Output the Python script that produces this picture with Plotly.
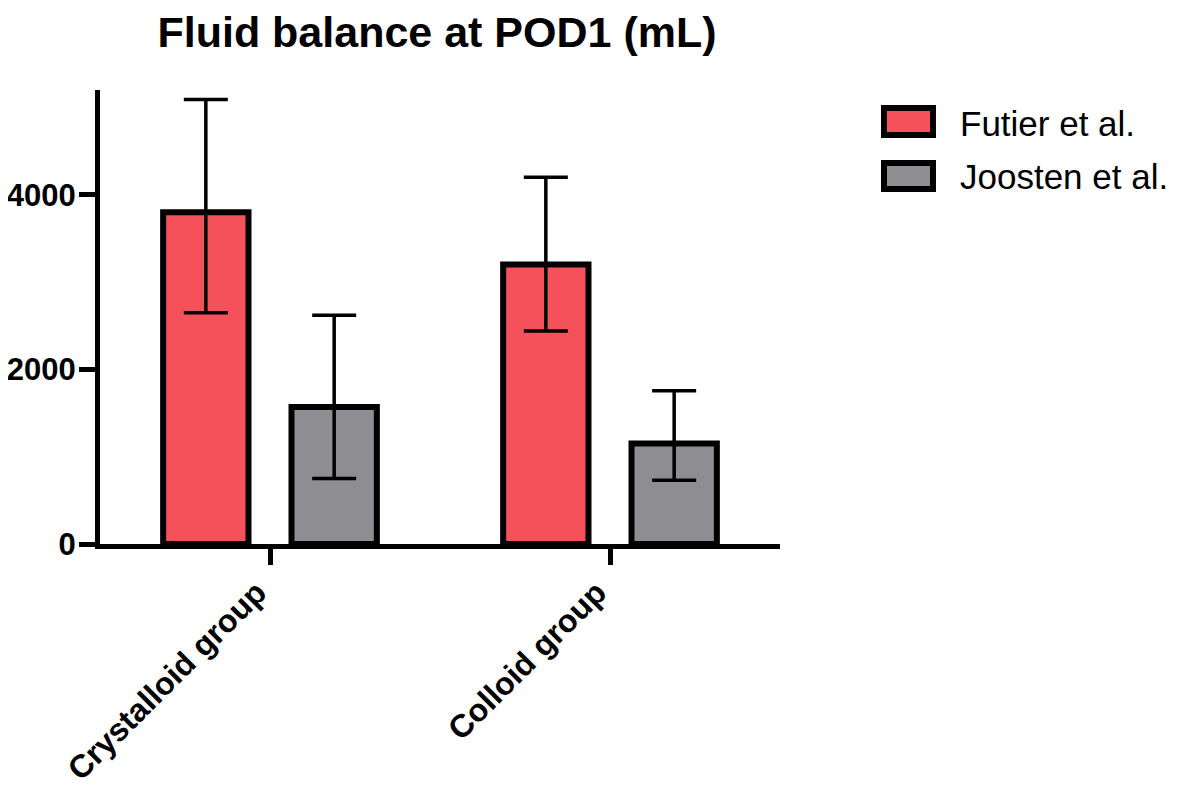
import plotly.graph_objects as go

categories = ["Crystalloid group", "Colloid group"]
series_names = ["Futier et al.", "Joosten et al."]

futier_mean = [3800, 3200]
futier_upper = [5090, 4200]
futier_lower = [2650, 2440]

joosten_mean = [1570, 1150]
joosten_upper = [2620, 1755]
joosten_lower = [750, 730]

y_ticks = [0, 2000, 4000]

RED = "#F4515A"
GRAY = "#8D8D92"
FONT = "Liberation Sans, Arial, Helvetica, sans-serif"


def err(mean, upper, lower):
    plus = [u - m for u, m in zip(upper, mean)]
    minus = [m - l for m, l in zip(mean, lower)]
    return dict(type="data", array=plus, arrayminus=minus, symmetric=False,
                color="black", thickness=3.5, width=22)


fig = go.Figure()
fig.add_trace(go.Bar(
    x=categories, y=futier_mean, name=series_names[0],
    marker=dict(color=RED, line=dict(color="black", width=6)),
    error_y=err(futier_mean, futier_upper, futier_lower),
    showlegend=False,
))
fig.add_trace(go.Bar(
    x=categories, y=joosten_mean, name=series_names[1],
    marker=dict(color=GRAY, line=dict(color="black", width=6)),
    error_y=err(joosten_mean, joosten_upper, joosten_lower),
    showlegend=False,
))

# page body has an 8px default margin; size the figure so it fills the window
OFF = 8
W, H = 1181 - OFF, 791 - OFF
L, R, T, B = 92, 401, 82, 247
pw, ph = W - L - R, H - T - B


def px_x(px):
    return (px - OFF - L) / pw


def px_y(py):
    return (H - B - (py - OFF)) / ph


# Manual legend (large swatches like the original)
legend_rows = [(series_names[0], RED, 108, 135, 123), (series_names[1], GRAY, 163, 189, 176)]
shapes = []
annotations = []
for name, col, top, bot, mid in legend_rows:
    shapes.append(dict(type="rect", xref="paper", yref="paper",
                       x0=px_x(884), x1=px_x(933), y0=px_y(bot), y1=px_y(top),
                       fillcolor=col, line=dict(color="black", width=6)))
    annotations.append(dict(text=name, xref="paper", yref="paper",
                            x=px_x(958), y=px_y(mid), xanchor="left", yanchor="middle",
                            showarrow=False,
                            font=dict(family=FONT, size=35, color="black")))

fig.update_layout(
    width=W, height=H,
    margin=dict(l=L, r=R, t=T, b=B, autoexpand=False),
    paper_bgcolor="white", plot_bgcolor="white",
    barmode="group", bargap=0.245, bargroupgap=0.335,
    title=dict(text="Fluid balance at POD1 (mL)", x=(437 - OFF) / W, xref="container",
               xanchor="center",
               y=1 - (32 - OFF) / H, yref="container", yanchor="middle",
               font=dict(family=FONT, size=43, color="black", weight="bold")),
    shapes=shapes,
    annotations=annotations,
    showlegend=False,
)

fig.update_xaxes(
    range=[-0.5, 1.5], showgrid=False, zeroline=False, automargin=False,
    showline=True, linecolor="black", linewidth=5,
    ticks="outside", ticklen=16, tickwidth=5, tickcolor="black",
    tickangle=-45, ticklabelshift=-13, ticklabelstandoff=-4,
    tickfont=dict(family=FONT, size=32, color="black", weight="bold"),
)
fig.update_yaxes(
    range=[0, 5200], showgrid=False, zeroline=False, automargin=False,
    showline=True, linecolor="black", linewidth=5,
    ticks="outside", ticklen=16, tickwidth=5, tickcolor="black",
    ticklabelstandoff=-3,
    tickvals=y_ticks, ticktext=[str(v) for v in y_ticks],
    tickfont=dict(family=FONT, size=31, color="black", weight="bold"),
)

fig.write_html("out.html")
